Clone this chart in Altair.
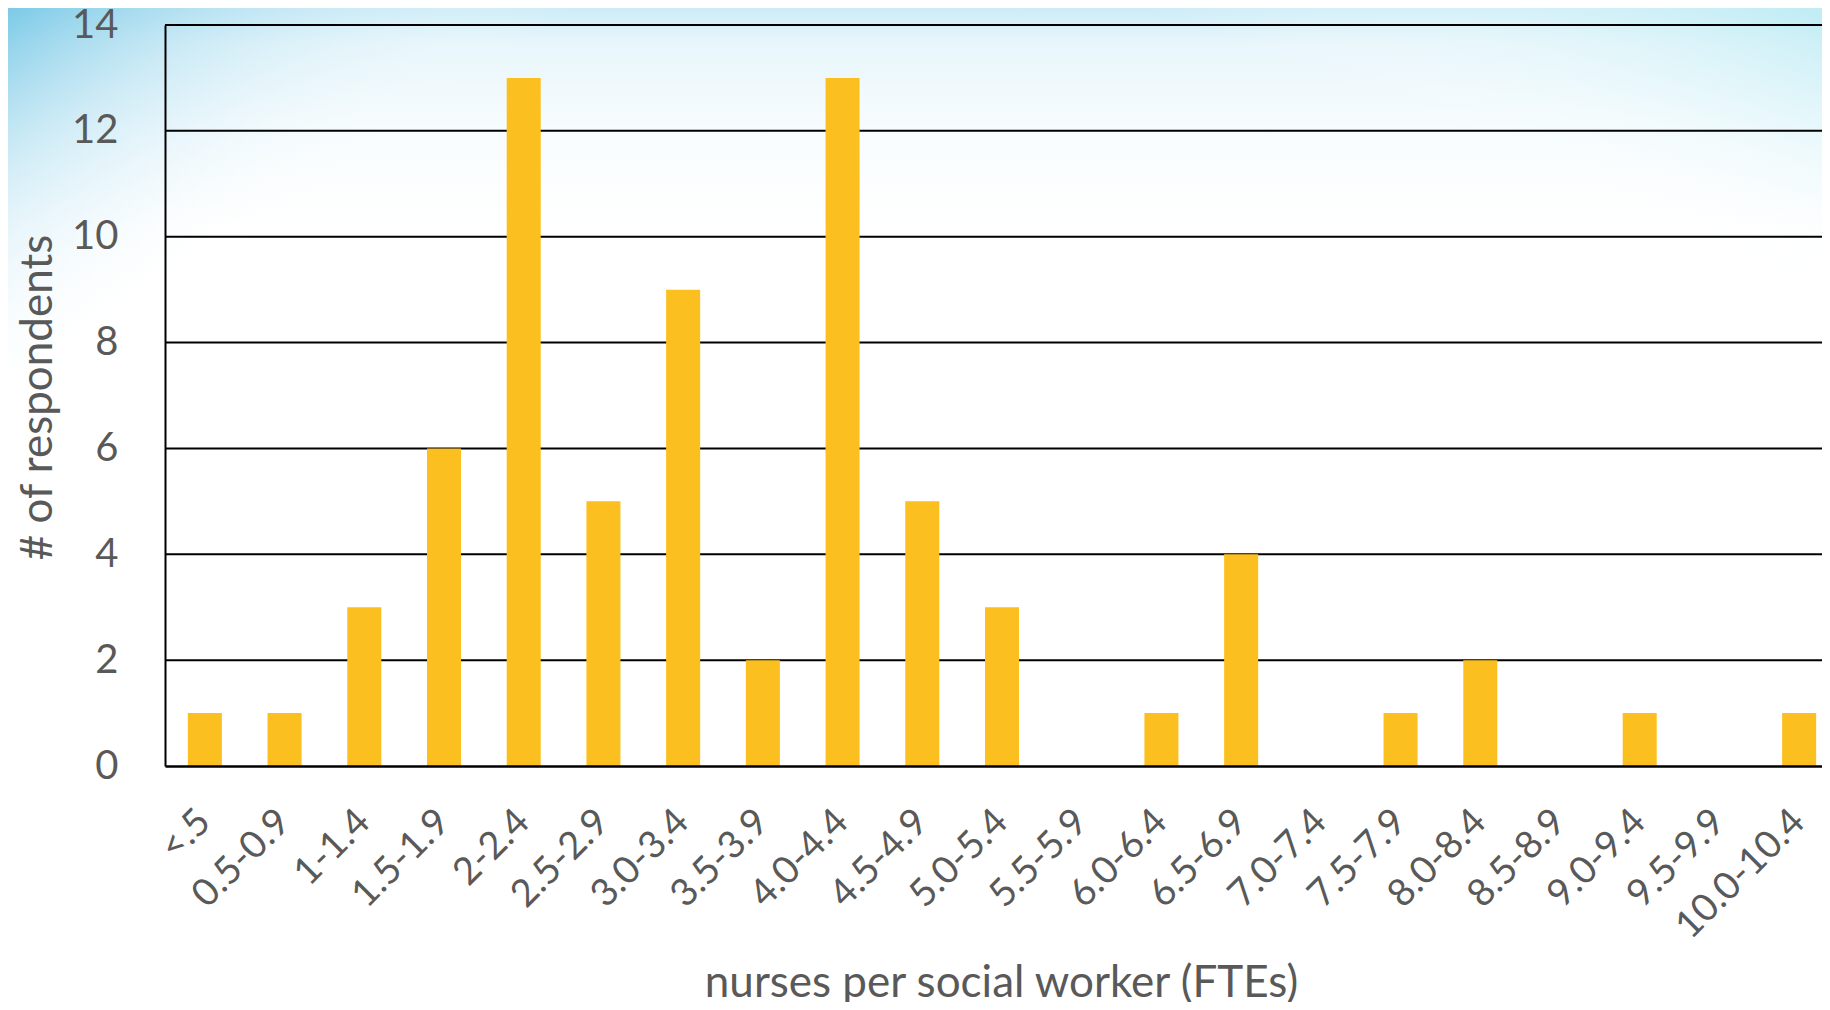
import altair as alt
import pandas as pd

categories = ["<.5", "0.5-0.9", "1-1.4", "1.5-1.9", "2-2.4", "2.5-2.9", "3.0-3.4",
              "3.5-3.9", "4.0-4.4", "4.5-4.9", "5.0-5.4", "5.5-5.9", "6.0-6.4",
              "6.5-6.9", "7.0-7.4", "7.5-7.9", "8.0-8.4", "8.5-8.9", "9.0-9.4",
              "9.5-9.9", "10.0-10.4"]
counts = [1, 1, 3, 6, 13, 5, 9, 2, 13, 5, 3, 0, 1, 4, 0, 1, 2, 0, 1, 0, 1]
y_ticks = [0, 2, 4, 6, 8, 10, 12, 14]

df = pd.DataFrame({"range": categories, "count": counts})
grid_df = pd.DataFrame({"count": y_ticks[1:]})

FONT = "Lato"
GREY = "#595959"
W, H = 1657, 741
XRANGE = 1674

y_axis = alt.Axis(
    values=y_ticks, grid=False, ticks=False, tickSize=0, labelPadding=47,
    labelFontSize=40, labelFont=FONT, labelColor=GREY,
    domainColor="black", domainWidth=2, zindex=1,
    title="# of respondents", titleFont=FONT, titleFontSize=44,
    titleFontWeight="normal", titleColor=GREY, titleAngle=270,
    titleAlign="center", titleBaseline="middle", titleX=-127, titleY=372,
)
y_scale = alt.Scale(domain=[0, 14], nice=False)

one = alt.Data(values=[{"a": 0}])
full = dict(x=alt.value(-157), x2=alt.value(W), y=alt.value(-17), y2=alt.value(H + 236))

bg = alt.Chart(one).mark_rect(
    fill=alt.Gradient(
        gradient="linear", x1=0, y1=0, x2=0, y2=1,
        stops=[alt.GradientStop(color="#cdecf7", offset=0),
               alt.GradientStop(color="#e8f6fb", offset=0.035),
               alt.GradientStop(color="#f7fcfe", offset=0.12),
               alt.GradientStop(color="#ffffff", offset=0.22),
               alt.GradientStop(color="#ffffff", offset=1)]),
).encode(**full)

bg2 = alt.Chart(one).mark_rect(
    fill=alt.Gradient(
        gradient="linear", x1=0, y1=0, x2=0.2, y2=0.15,
        stops=[alt.GradientStop(color="rgba(115,198,229,0.9)", offset=0),
               alt.GradientStop(color="rgba(175,222,240,0.5)", offset=0.4),
               alt.GradientStop(color="rgba(255,255,255,0)", offset=1)]),
).encode(**full)

bg3 = alt.Chart(one).mark_rect(
    fill=alt.Gradient(
        gradient="linear", x1=1, y1=0, x2=0.86, y2=0.18,
        stops=[alt.GradientStop(color="rgba(190,236,244,0.9)", offset=0),
               alt.GradientStop(color="rgba(255,255,255,0)", offset=1)]),
).encode(**full)

grid = alt.Chart(grid_df).mark_rule(color="black", strokeWidth=2).encode(
    y=alt.Y("count:Q", scale=y_scale, axis=y_axis),
    x=alt.value(0), x2=alt.value(XRANGE),
)

bars = alt.Chart(df).mark_bar(color="#FBC020").encode(
    x=alt.X("range:N", sort=categories,
            scale=alt.Scale(range=[0, XRANGE], paddingInner=0.573, paddingOuter=0.2865),
            axis=alt.Axis(
                labelAngle=315, labelAlign="right", labelBaseline="middle",
                labelPadding=50, ticks=False, tickSize=0, labelOverlap=False,
                labelFlush=False, labelBound=False,
                labelFont=FONT, labelFontSize=38, labelColor=GREY,
                domainColor="black", domainWidth=2.5,
                title="nurses per social worker (FTEs)", titleFont=FONT,
                titleFontSize=44, titleFontWeight="normal", titleColor=GREY,
                titleX=836, titleY=230, titleBaseline="alphabetic", titleAlign="center",
                zindex=1)),
    y=alt.Y("count:Q", scale=y_scale, axis=y_axis),
)

chart = alt.layer(bg, bg2, bg3, grid, bars).properties(
    width=W, height=H,
    padding={"left": 157, "top": 17, "right": 0, "bottom": 236},
    autosize="none",
).configure_view(stroke=None)

chart.save("out.html", embed_options={"renderer": "svg", "actions": False})
